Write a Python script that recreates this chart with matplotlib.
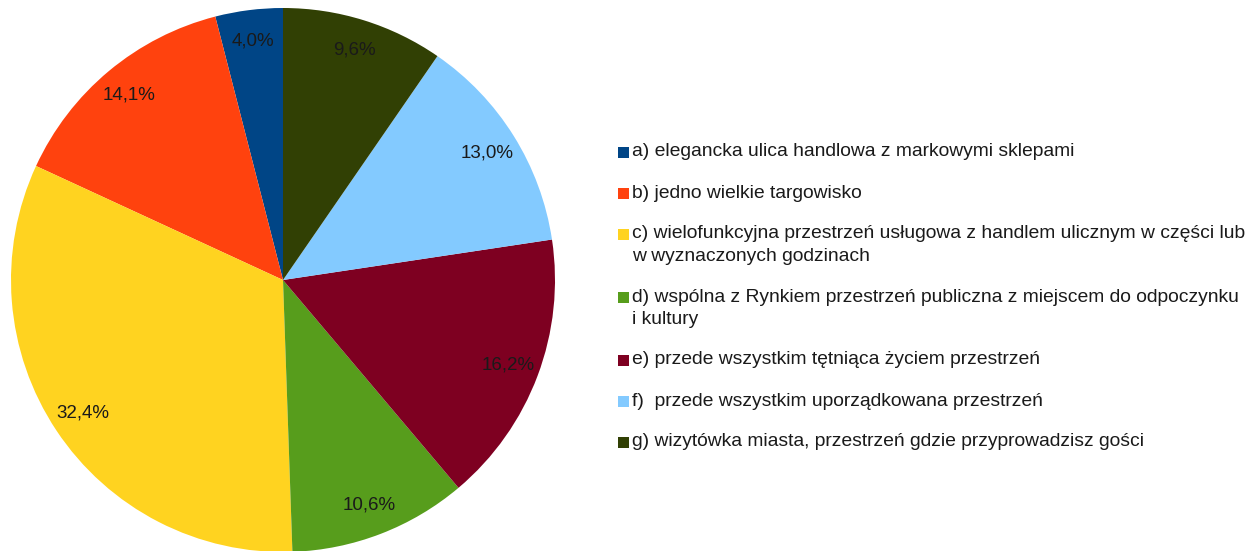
import matplotlib
matplotlib.use("Agg")
import matplotlib.pyplot as plt
from matplotlib.patches import Rectangle

plt.rcParams['font.family'] = ['Liberation Sans', 'DejaVu Sans']

labels = [
    "a) elegancka ulica handlowa z markowymi sklepami",
    "b) jedno wielkie targowisko",
    "c) wielofunkcyjna przestrzeń usługowa z handlem ulicznym w części lub\nw wyznaczonych godzinach",
    "d) wspólna z Rynkiem przestrzeń publiczna z miejscem do odpoczynku\ni kultury",
    "e) przede wszystkim tętniąca życiem przestrzeń",
    "f)  przede wszystkim uporządkowana przestrzeń",
    "g) wizytówka miasta, przestrzeń gdzie przyprowadzisz gości",
]
values = [4.0, 14.1, 32.4, 10.6, 16.2, 13.0, 9.6]
colors = ["#004586", "#ff420e", "#ffd320", "#579d1c", "#7e0021", "#83caff", "#314004"]

W, H = 1253, 551
fig = plt.figure(figsize=(W / 100, H / 100), dpi=100)

cx, cy, r = 283, 280, 272
ax = fig.add_axes([(cx - r) / W, (H - cy - r) / H, 2 * r / W, 2 * r / H])
ax.pie(values, colors=colors, startangle=90, counterclock=True,
       autopct=lambda p: f"{p:.1f}%".replace('.', ','), pctdistance=0.885,
       wedgeprops=dict(linewidth=0),
       textprops=dict(fontsize=13.5, color="#1a1a1a"))
ax.set_xlim(-1, 1)
ax.set_ylim(-1, 1)
ax.set_aspect('equal')
ax.axis('off')

# legend drawn manually (square aligned with first text line)
x_sq, x_txt = 618, 632
y = 152
for lab, col in zip(labels, colors):
    fig.patches.append(Rectangle((x_sq / W, (H - y - 5.5) / H), 11 / W, 11 / H,
                                 transform=fig.transFigure, facecolor=col,
                                 edgecolor='none'))
    fig.text(x_txt / W, (H - y + 8.5) / H, lab, fontsize=13.85, color="#1a1a1a",
             ha='left', va='top', linespacing=1.41,
             transform=fig.transFigure)
    nlines = lab.count("\n")
    y += 41 + 22 * nlines

fig.savefig("out.png", dpi=100)
